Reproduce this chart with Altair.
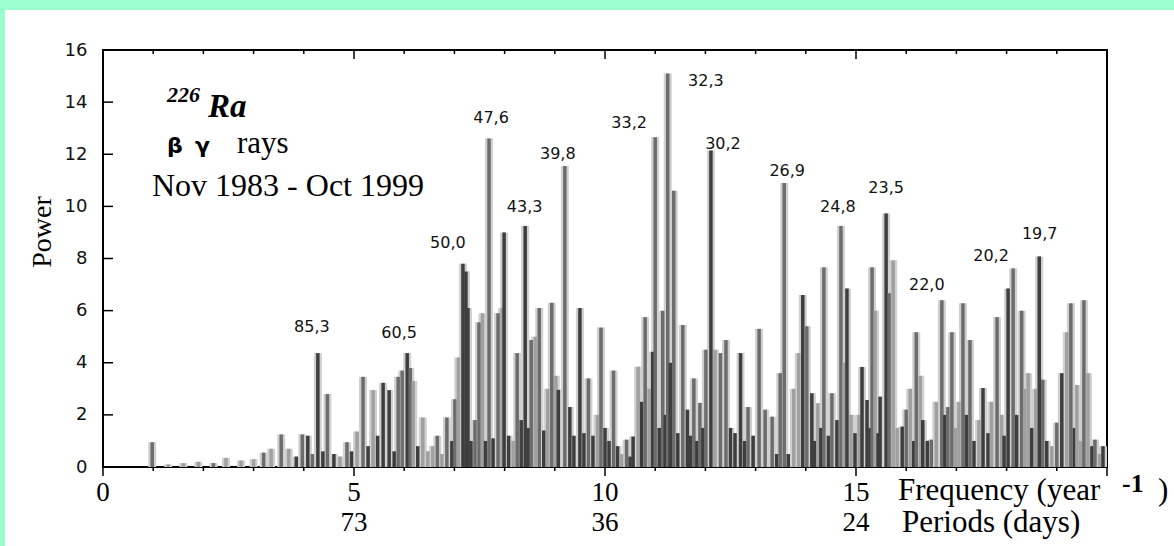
import altair as alt
import pandas as pd

# ---- spectrum spikes (frequency in 1/year, power) ----
freq = [0.98, 1.3, 1.6, 1.9, 2.2, 2.45, 2.75, 3.0, 3.2, 3.35, 3.55, 3.7, 3.85, 3.97, 4.08, 4.17,
        4.28, 4.38, 4.47, 4.6, 4.72, 4.86, 4.95, 5.06, 5.18, 5.28, 5.38, 5.47, 5.58, 5.7, 5.8,
        5.88, 5.96, 6.06, 6.12, 6.18, 6.27, 6.37, 6.47, 6.57, 6.66, 6.75, 6.85, 6.95, 7.01, 7.08,
        7.17, 7.23, 7.27, 7.33, 7.41, 7.49, 7.56, 7.62, 7.69, 7.77, 7.87, 7.95, 7.99, 8.08, 8.17,
        8.25, 8.33, 8.41, 8.47, 8.53, 8.61, 8.69, 8.78, 8.86, 8.94, 9.02, 9.07, 9.2, 9.3, 9.38,
        9.5, 9.58, 9.67, 9.76, 9.85, 9.92, 10.0, 10.08, 10.17, 10.25, 10.33, 10.43, 10.5, 10.56,
        10.66, 10.73, 10.8, 10.88, 10.95, 11.0, 11.08, 11.15, 11.2, 11.25, 11.3, 11.37, 11.45,
        11.55, 11.64, 11.7, 11.77, 11.83, 11.89, 11.95, 12.01, 12.11, 12.19, 12.3, 12.41, 12.5,
        12.59, 12.7, 12.78, 12.85, 12.95, 13.07, 13.19, 13.33, 13.42, 13.49, 13.57, 13.65, 13.76,
        13.86, 13.94, 14.02, 14.12, 14.18, 14.24, 14.3, 14.36, 14.45, 14.52, 14.62, 14.7, 14.76,
        14.82, 14.9, 14.98, 15.06, 15.12, 15.22, 15.28, 15.32, 15.38, 15.44, 15.48, 15.6, 15.66,
        15.74, 15.82, 15.92, 16.0, 16.08, 16.15, 16.2, 16.28, 16.33, 16.42, 16.5, 16.6, 16.71,
        16.77, 16.83, 16.91, 16.98, 17.05, 17.13, 17.2, 17.27, 17.35, 17.45, 17.53, 17.63, 17.7,
        17.81, 17.9, 17.95, 18.03, 18.13, 18.2, 18.3, 18.36, 18.43, 18.5, 18.58, 18.65, 18.72,
        18.8, 18.9, 19.0, 19.1, 19.2, 19.28, 19.35, 19.4, 19.47, 19.54, 19.62, 19.7, 19.76,
        19.85, 19.92]
power = [0.95, 0.1, 0.15, 0.2, 0.15, 0.35, 0.25, 0.3, 0.55, 0.7, 1.25, 0.7, 0.4, 1.25, 1.2, 0.5,
         4.37, 0.6, 2.8, 0.5, 0.4, 0.95, 0.6, 1.36, 3.46, 0.8, 2.95, 1.2, 3.23, 2.95, 0.6,
         3.46, 3.7, 4.37, 3.8, 3.3, 0.8, 1.9, 0.6, 0.8, 1.2, 0.5, 1.9, 1.0, 2.6, 4.2,
         7.8, 7.5, 6.1, 1.0, 1.8, 5.55, 5.9, 1.0, 12.6, 1.1, 5.9, 6.1, 9.0, 1.2, 1.0,
         4.37, 1.8, 9.25, 1.5, 4.87, 5.0, 6.1, 1.4, 3.0, 6.3, 3.5, 2.96, 11.55, 2.3, 1.2,
         6.1, 1.3, 3.4, 1.2, 2.0, 5.35, 1.5, 1.0, 3.7, 0.8, 0.5, 1.05, 0.4, 1.17,
         3.85, 2.5, 5.75, 3.0, 4.42, 12.65, 1.5, 6.0, 2.0, 15.1, 4.0, 10.6, 1.3,
         5.45, 2.2, 1.2, 3.4, 1.0, 2.46, 1.5, 4.5, 12.14, 4.5, 4.37, 4.87, 1.5,
         1.3, 4.37, 1.0, 2.3, 1.2, 5.3, 2.2, 1.93, 0.5, 3.6, 10.9, 0.5, 3.0,
         4.37, 6.6, 5.4, 2.83, 1.0, 2.45, 1.5, 7.66, 1.2, 2.83, 1.8, 9.25, 4.0,
         6.85, 2.0, 1.3, 2.0, 3.84, 2.57, 1.5, 7.66, 6.0, 1.3, 2.7, 9.73, 6.67,
         7.93, 1.5, 1.55, 2.2, 3.0, 1.0, 5.17, 3.5, 1.8, 1.0, 1.05, 2.5, 6.4,
         2.0, 2.3, 5.17, 1.5, 2.5, 6.28, 2.0, 4.87, 1.0, 1.8, 3.03, 1.3, 2.5,
         5.75, 2.0, 1.2, 6.85, 7.62, 2.0, 6.0, 3.0, 3.6, 1.5, 3.0, 8.08, 3.35,
         1.0, 0.8, 1.7, 3.6, 5.17, 6.28, 1.5, 3.15, 1.0, 6.4, 3.6, 0.8, 1.05,
         0.5, 0.8]
shade = ["m", "l", "l", "l", "m", "l", "l", "l", "m", "l", "m", "l", "d", "m", "d", "m",
         "d", "d", "m", "d", "l", "m", "d", "l", "m", "d", "l", "d", "d", "d", "d",
         "m", "m", "d", "m", "l", "d", "l", "l", "l", "m", "l", "m", "d", "m", "l",
         "d", "d", "d", "d", "m", "m", "l", "d", "m", "d", "m", "l", "d", "d", "l",
         "m", "d", "d", "d", "m", "l", "m", "d", "l", "m", "l", "d", "m", "d", "d",
         "d", "d", "m", "d", "l", "m", "d", "d", "m", "d", "l", "m", "d", "d",
         "l", "d", "m", "l", "d", "m", "d", "m", "d", "m", "d", "m", "d",
         "m", "d", "d", "m", "d", "m", "d", "m", "d", "l", "m", "m", "d",
         "d", "d", "d", "m", "d", "m", "m", "m", "d", "m", "m", "d", "l",
         "l", "d", "m", "d", "d", "l", "d", "m", "d", "m", "d", "m", "l",
         "d", "l", "d", "l", "d", "d", "d", "m", "l", "d", "d", "d", "m",
         "l", "l", "d", "m", "l", "d", "m", "l", "d", "d", "m", "l", "m",
         "d", "m", "m", "l", "l", "m", "d", "m", "d", "l", "d", "d", "l",
         "m", "l", "d", "d", "m", "d", "m", "l", "l", "d", "l", "d", "m",
         "d", "l", "m", "d", "l", "m", "d", "l", "l", "m", "l", "d", "m",
         "l", "d"]

# ---- peak labels (period in days) ----
peak_text = ["85,3", "60,5", "50,0", "47,6", "43,3", "39,8", "33,2", "32,3", "30,2",
             "26,9", "24,8", "23,5", "22,0", "20,2", "19,7"]
peak_f = [4.16, 5.9, 6.87, 7.73, 8.4, 9.06, 10.48, 12.01, 12.35, 13.63, 14.64, 15.6, 16.41, 17.69, 18.66]
peak_p = [5.38, 5.15, 8.6, 13.4, 9.98, 12.0, 13.2, 14.8, 12.4, 11.36, 9.98, 10.7, 7.0, 8.1, 8.94]

# ---- axis labels ----
x_ticks = list(range(0, 21))
y_ticks = [0, 2, 4, 6, 8, 10, 12, 14, 16]
freq_labels = ["0", "5", "10", "15"]
freq_label_vals = [0, 5, 10, 15]
period_labels = ["73", "36", "24"]
period_label_vals = [5, 10, 15]

W, H = 1004, 417
SERIF = "Liberation Serif"
SANS = "DejaVu Sans"

spikes = pd.DataFrame({"f": freq, "p": power, "shade": shade})
spikes["z"] = 0.0
peaks = pd.DataFrame({"t": peak_text, "f": peak_f, "p": peak_p})
ticks = pd.DataFrame({"t": x_ticks})
ticks["major"] = ticks["t"] % 5 == 0
yt = pd.DataFrame({"v": y_ticks})
fl = pd.DataFrame({"t": freq_labels, "f": freq_label_vals})
pl = pd.DataFrame({"t": period_labels, "f": period_label_vals})
one = pd.DataFrame({"a": [0]})

xs = alt.Scale(domain=[0, 20], nice=False, zero=False)
ys = alt.Scale(domain=[0, 16], nice=False)
yaxis = alt.Axis(values=y_ticks, title=None, grid=False, ticks=False, tickSize=0, domain=False,
                 labelFont=SANS, labelFontSize=18, labelColor="#111111", labelPadding=16)

X = lambda f: alt.X(f, scale=xs, axis=None)
Y = lambda f: alt.Y(f, scale=ys, axis=yaxis)

halo = alt.Chart(spikes).mark_rule(strokeWidth=8, color="#d0d0d0").encode(
    x=X("f:Q"), y=Y("p:Q"), y2="z:Q")
core = alt.Chart(spikes).mark_rule(strokeWidth=3.5).encode(
    x=X("f:Q"), y=Y("p:Q"), y2="z:Q",
    color=alt.Color("shade:N", scale=alt.Scale(domain=["d", "m", "l"],
                                                range=["#3e3e3e", "#6c6c6c", "#a0a0a0"]), legend=None))

labels = alt.Chart(peaks).mark_text(font=SANS, fontSize=16, color="#111111", baseline="middle").encode(
    x=X("f:Q"), y=Y("p:Q"), text="t:N")

top_minor = alt.Chart(ticks[~ticks["major"]]).mark_rule(color="black", strokeWidth=1.5).encode(
    x=X("t:Q"), y=alt.value(0), y2=alt.value(4))
top_major = alt.Chart(ticks[ticks["major"]]).mark_rule(color="black", strokeWidth=1.5).encode(
    x=X("t:Q"), y=alt.value(0), y2=alt.value(9))
bot_minor = alt.Chart(ticks[~ticks["major"]]).mark_rule(color="black", strokeWidth=1.5).encode(
    x=X("t:Q"), y=alt.value(H), y2=alt.value(H + 4))
bot_major = alt.Chart(ticks[ticks["major"]]).mark_rule(color="black", strokeWidth=1.5).encode(
    x=X("t:Q"), y=alt.value(H), y2=alt.value(H + 9))
left_ticks = alt.Chart(yt).mark_rule(color="black", strokeWidth=1.5).encode(
    y=Y("v:Q"), x=alt.value(0), x2=alt.value(10))

freq_txt = alt.Chart(fl).mark_text(font=SERIF, fontSize=27, color="black", baseline="middle").encode(
    x=X("f:Q"), y=alt.value(443), text="t:N")
per_txt = alt.Chart(pl).mark_text(font=SERIF, fontSize=27, color="black", baseline="middle").encode(
    x=X("f:Q"), y=alt.value(473), text="t:N")


def txt(s, x, y, size, font=SERIF, weight="normal", style="normal", align="left",
        baseline="alphabetic", angle=0):
    return alt.Chart(one).mark_text(text=s, font=font, fontSize=size, fontWeight=weight,
                                    fontStyle=style, align=align, baseline=baseline,
                                    angle=angle, color="black").encode(
        x=alt.value(x), y=alt.value(y))


texts = [
    txt("Frequency (year", 795, 441, 31, baseline="middle"),
    txt("-1", 1019, 434, 26, weight="bold", baseline="middle"),
    txt(")", 1055, 441, 31, baseline="middle"),
    txt("Periods (days)", 799, 473, 31, baseline="middle"),
    txt("Power", -60, 182, 28, align="center", baseline="middle", angle=270),
    txt("226", 64, 52, 22, weight="bold", style="italic"),
    txt("Ra", 105, 67, 33, weight="bold", style="italic"),
    txt("β", 64, 103, 22, font=SANS, weight="bold"),
    txt("γ", 92, 103, 22, font=SANS, weight="bold"),
    txt("rays", 134, 103, 31),
    txt("Nov 1983 - Oct 1999", 49, 146, 32),
]

green = "#99FFCC"
top_strip = alt.Chart(one).mark_rect(color=green).encode(
    x=alt.value(-103), x2=alt.value(1071), y=alt.value(-50), y2=alt.value(-40))
left_strip = alt.Chart(one).mark_rect(color=green).encode(
    x=alt.value(-103), x2=alt.value(-98), y=alt.value(-50), y2=alt.value(496))

chart = alt.layer(
    halo, core, labels, top_minor, top_major, bot_minor, bot_major, left_ticks,
    freq_txt, per_txt, *texts, top_strip, left_strip
).properties(
    width=W, height=H,
    autosize=alt.AutoSizeParams(type="none"),
    padding={"left": 103, "top": 50, "right": 67, "bottom": 79},
).configure(background="white").configure_view(stroke="black", strokeWidth=2)

chart.save("out.html", embed_options={"renderer": "svg", "actions": False})
